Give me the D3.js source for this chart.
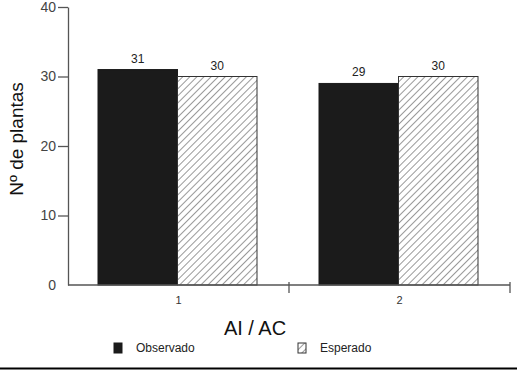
<!DOCTYPE html>
<html>
<head>
<meta charset="utf-8">
<script src="https://cdn.jsdelivr.net/npm/d3@7"></script>
<style>
  body { margin: 0; background: #fff; }
  svg { display: block; font-family: "Liberation Sans", Arial, sans-serif; }
</style>
</head>
<body>
<div id="chart"></div>
<script>
// data
const categories = ["1", "2"];
const seriesNames = ["Observado", "Esperado"];
const observado = [31, 29];
const esperado = [30, 30];
const yTicks = [0, 10, 20, 30, 40];

const W = 517, H = 370;
const margin = {top: 7, right: 7, bottom: 85, left: 68};
const width = W - margin.left - margin.right,
      height = H - margin.top - margin.bottom;

const svg = d3.select('#chart').append('svg')
  .attr('width', W)
  .attr('height', H);

// hatch pattern
const defs = svg.append('defs');
defs.append('pattern')
  .attr('id', 'hatch')
  .attr('patternUnits', 'userSpaceOnUse')
  .attr('width', 5).attr('height', 5)
  .attr('patternTransform', 'rotate(45)')
  .append('line')
  .attr('x1', 0).attr('y1', 0).attr('x2', 0).attr('y2', 5)
  .attr('stroke', '#333').attr('stroke-width', 1);

const g = svg.append('g').attr('transform', `translate(${margin.left},${margin.top})`);

// two equal bands, bars inset inside each
const xBand = d3.scaleBand().domain(categories).range([0, width]);
const x1 = d3.scaleBand().domain(seriesNames).range([30, xBand.bandwidth() - 32]);

const y = d3.scaleLinear().domain([0, 40]).range([height, 0]);

const rows = categories.map((c, i) => ({cat: c, values: [
  {key: "Observado", value: observado[i]},
  {key: "Esperado", value: esperado[i]}
]}));

const groups = g.selectAll('.grp').data(rows).enter().append('g')
  .attr('transform', d => `translate(${xBand(d.cat)},0)`);

groups.selectAll('rect').data(d => d.values).enter().append('rect')
  .attr('x', d => x1(d.key))
  .attr('y', d => y(d.value))
  .attr('width', x1.bandwidth())
  .attr('height', d => height - y(d.value))
  .attr('fill', d => d.key === "Observado" ? '#1b1b1b' : 'url(#hatch)')
  .attr('stroke', d => d.key === "Observado" ? '#1b1b1b' : '#333')
  .attr('stroke-width', 1);

groups.selectAll('text.val').data(d => d.values).enter().append('text')
  .attr('class', 'val')
  .attr('x', d => x1(d.key) + x1.bandwidth() / 2)
  .attr('y', d => y(d.value) - 7)
  .attr('text-anchor', 'middle')
  .style('font-size', '12px')
  .attr('fill', '#222')
  .text(d => d.value);

// y axis
const yAxis = g.append('g')
  .call(d3.axisLeft(y).tickValues(yTicks).tickSize(10).tickSizeOuter(0).tickPadding(2));
yAxis.selectAll('path, line').attr('stroke', '#555').attr('stroke-width', 1.3);
yAxis.selectAll('text').style('font-size', '14px').attr('fill', '#444').style('font-family', '"Liberation Sans", Arial, sans-serif');
yAxis.selectAll('.tick').filter(d => d === 0).select('line').remove();

// x axis
const xAxisG = g.append('g').attr('transform', `translate(0,${height})`);
xAxisG.append('line').attr('x1', 0).attr('x2', width).attr('y1', 0).attr('y2', 0)
  .attr('stroke', '#555').attr('stroke-width', 1.3);
xAxisG.selectAll('line.sep').data(categories).enter().append('line')
  .attr('class', 'sep')
  .attr('x1', d => xBand(d) + xBand.bandwidth()).attr('x2', d => xBand(d) + xBand.bandwidth())
  .attr('y1', -3).attr('y2', 8)
  .attr('stroke', '#555').attr('stroke-width', 1.3);
xAxisG.selectAll('text.cat').data(categories).enter().append('text')
  .attr('class', 'cat')
  .attr('x', d => xBand(d) + xBand.bandwidth() / 2)
  .attr('y', 19)
  .attr('text-anchor', 'middle')
  .style('font-size', '11px')
  .attr('fill', '#333')
  .text(d => d);

// axis titles
svg.append('text')
  .attr('x', 255).attr('y', 335)
  .attr('text-anchor', 'middle')
  .style('font-size', '20px')
  .attr('fill', '#111')
  .text('AI / AC');

svg.append('text')
  .attr('transform', 'translate(23,139) rotate(-90)')
  .attr('text-anchor', 'middle')
  .style('font-size', '19px')
  .attr('fill', '#111')
  .text('Nº de plantas');

// legend
const legend = svg.append('g').attr('transform', 'translate(0,343)');
const legX = [114, 298];
seriesNames.forEach((s, i) => {
  legend.append('rect')
    .attr('x', legX[i]).attr('y', 0)
    .attr('width', 8).attr('height', 10)
    .attr('fill', i === 0 ? '#1b1b1b' : 'url(#hatch)')
    .attr('stroke', i === 0 ? '#1b1b1b' : '#333');
  legend.append('text')
    .attr('x', legX[i] + 22).attr('y', 9)
    .style('font-size', '12px')
    .attr('fill', '#222')
    .text(s);
});

// bottom frame line
svg.append('line')
  .attr('x1', 0).attr('x2', W).attr('y1', 368.5).attr('y2', 368.5)
  .attr('stroke', '#000').attr('stroke-width', 2);
</script>
</body>
</html>
